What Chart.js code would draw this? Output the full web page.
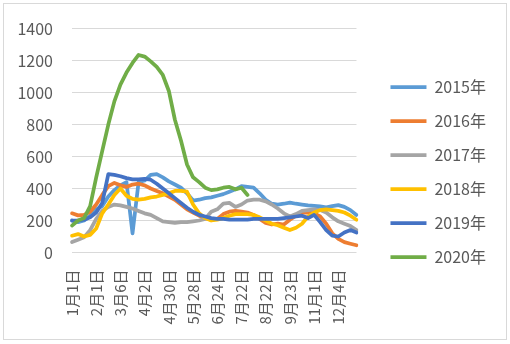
<!DOCTYPE html>
<html>
<head>
<meta charset="utf-8">
<script src="https://cdn.jsdelivr.net/npm/chart.js@4.4.1/dist/chart.umd.min.js"></script>
<style>
  html, body { margin: 0; padding: 0; background: #ffffff; }
  #wrap { width: 510px; height: 344px; }
</style>
</head>
<body>
<div id="wrap"><canvas id="c" width="510" height="344"></canvas></div>
<script>
const categories = [
  '1月1日','1月8日','1月15日','1月22日',
  '2月1日','2月12日','2月19日','2月26日',
  '3月6日','3月13日','3月20日','3月27日',
  '4月2日','4月9日','4月16日','4月23日',
  '4月30日','5月7日','5月14日','5月21日',
  '5月28日','6月4日','6月11日','6月18日',
  '6月24日','7月1日','7月8日','7月15日',
  '7月22日','7月29日','8月5日','8月12日',
  '8月22日','8月29日','9月5日','9月12日',
  '9月23日','9月30日','10月15日','10月22日',
  '11月1日','11月8日','11月15日','11月22日',
  '12月4日','12月11日','12月18日','12月25日'
];
const seriesNames = ['2015年','2016年','2017年','2018年','2019年','2020年'];
const y2015 = [200,190,200,230,270,290,350,390,420,440,120,440,450,485,490,470,445,425,405,370,325,330,340,345,355,365,380,395,415,410,405,370,330,305,300,305,312,305,300,295,292,288,283,290,296,285,265,235];
const y2016 = [245,232,235,255,300,360,415,435,420,410,425,430,420,400,385,370,350,330,300,270,250,230,215,205,210,240,255,260,255,250,235,210,185,175,180,175,205,230,250,250,245,225,180,120,85,65,55,45];
const y2017 = [65,80,95,140,210,260,285,300,295,285,275,260,245,235,215,195,190,185,190,190,195,200,210,255,270,305,310,285,300,325,330,330,320,300,275,245,225,240,260,265,270,265,250,220,195,180,165,140];
const y2018 = [105,115,100,110,150,245,300,360,400,355,335,330,335,345,350,360,370,385,385,380,300,245,215,200,205,215,230,240,240,240,235,220,200,180,170,155,140,155,180,225,250,265,270,265,260,250,230,205];
const y2019 = [200,200,205,220,250,310,490,485,477,465,457,457,460,455,430,400,370,340,310,280,255,235,225,215,210,210,205,205,205,205,210,210,210,210,210,215,220,225,230,215,235,190,140,105,100,125,140,125];
const y2020 = [168,200,215,290,470,635,800,945,1050,1125,1185,1235,1225,1195,1160,1110,1010,830,700,550,470,440,405,390,395,405,410,395,405,360];
const yTicks = [0,200,400,600,800,1000,1200,1400];

const colors = ['#5B9BD5','#ED7D31','#A5A5A5','#FFC000','#4472C4','#70AD47'];
const values = [y2015, y2016, y2017, y2018, y2019, y2020];

const FONT = '"Noto Sans CJK SC", "Noto Sans", sans-serif';

const borderPlugin = {
  id: 'frame',
  beforeDraw(chart) {
    const ctx = chart.ctx;
    ctx.save();
    ctx.fillStyle = '#ffffff';
    ctx.fillRect(0, 0, chart.width, chart.height);
    ctx.strokeStyle = '#d9d9d9';
    ctx.lineWidth = 1;
    ctx.strokeRect(3.5, 3.5, 503, 336);
    ctx.restore();
  }
};

new Chart(document.getElementById('c'), {
  type: 'line',
  data: {
    labels: categories,
    datasets: values.map((v, i) => ({
      label: seriesNames[i],
      data: v,
      borderColor: colors[i],
      backgroundColor: colors[i],
      borderWidth: 3.75,
      pointRadius: 0,
      pointHoverRadius: 0,
      tension: 0,
      fill: false,
      borderCapStyle: 'round',
      borderJoinStyle: 'round',
      order: 6 - i
    }))
  },
  options: {
    responsive: false,
    animation: false,
    devicePixelRatio: 1,
    layout: { padding: { left: 17, right: 14, top: 13, bottom: 13 } },
    plugins: {
      tooltip: { enabled: false },
      legend: {
        position: 'right',
        maxWidth: 160,
        labels: {
          usePointStyle: true,
          pointStyle: 'line',
          pointStyleWidth: 36,
          boxWidth: 36,
          boxHeight: 4,
          padding: 18,
          color: '#595959',
          font: { family: FONT, size: 16 },
          sort: (a, b) => a.datasetIndex - b.datasetIndex
        }
      }
    },
    scales: {
      x: {
        offset: false,
        grid: { display: false, drawTicks: false },
        border: { display: false },
        ticks: {
          autoSkip: false,
          minRotation: 90,
          maxRotation: 90,
          padding: 17,
          color: '#595959',
          font: { family: FONT, size: 15 },
          callback: (v, i) => (i % 4 === 0 ? categories[i] : '')
        },
        afterFit: (s) => { s.height = 78.5; }
      },
      topGap: {
        type: 'category',
        position: 'top',
        display: true,
        grid: { display: false, drawTicks: false },
        border: { display: false },
        ticks: { display: false },
        afterFit: (s) => { s.height = 12; }
      },
      y: {
        min: 0,
        max: 1400,
        afterBuildTicks: (s) => { s.ticks = yTicks.map(v => ({ value: v })); },
        grid: { color: '#d9d9d9', lineWidth: 1, drawTicks: false },
        border: { display: false },
        ticks: {
          padding: 19,
          color: '#595959',
          font: { family: FONT, size: 16 },
          callback: (v) => String(v)
        },
        afterFit: (s) => { s.width = 55; }
      },
      gap: {
        position: 'right',
        display: true,
        grid: { display: false, drawTicks: false },
        border: { display: false },
        ticks: { display: false },
        afterFit: (s) => { s.width = 16; }
      }
    }
  },
  plugins: [borderPlugin]
});
</script>
</body>
</html>
